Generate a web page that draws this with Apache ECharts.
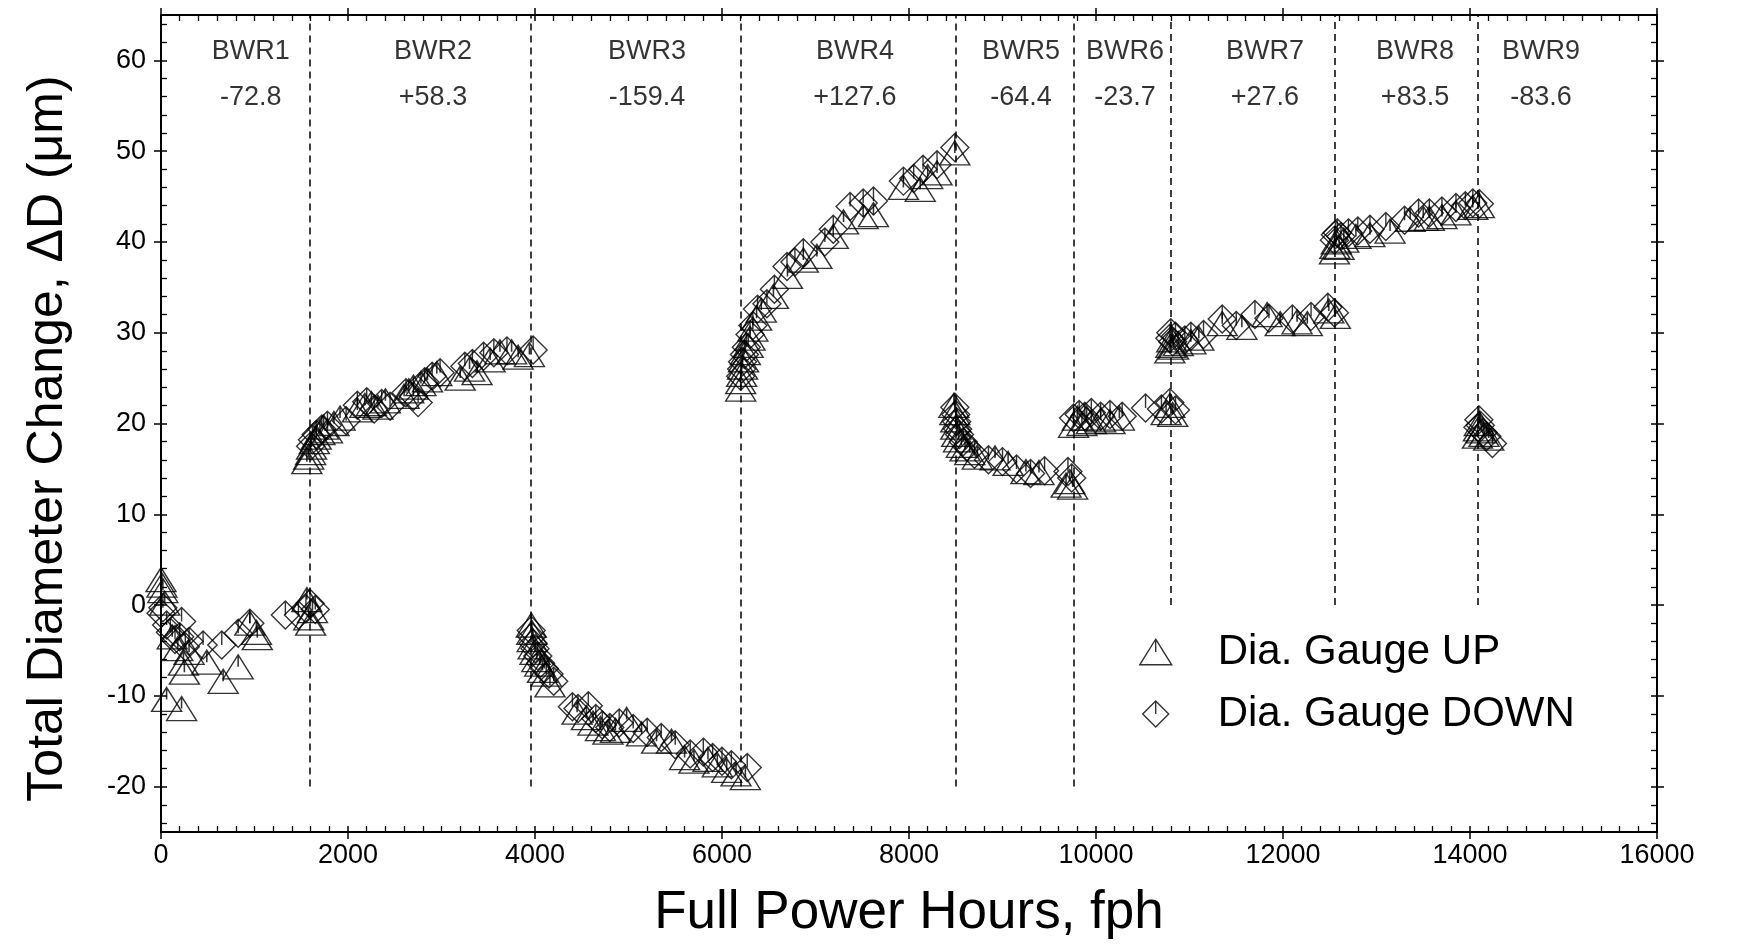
<!DOCTYPE html>
<html><head><meta charset="utf-8">
<script src="https://cdn.jsdelivr.net/npm/echarts@6/dist/echarts.min.js"></script>
<style>html,body{margin:0;padding:0;background:#fff}#c{width:1740px;height:946px}</style>
</head><body><div id="c"></div>
<script>
// ---- annotations ----
const cycleNames = ['BWR1','BWR2','BWR3','BWR4','BWR5','BWR6','BWR7','BWR8','BWR9'];
const cycleChanges = ['-72.8','+58.3','-159.4','+127.6','-64.4','-23.7','+27.6','+83.5','-83.6'];
const cycleLabelX = [960, 2909, 5198, 7422, 9198, 10310, 11807, 13412, 14760];
const cycleEnds = [1594, 3958, 6204, 8495, 9757, 10795, 12552, 14085];
const cycleEndBottoms = [-20, -20, -20, -20, -20, 0, 0, 0];
const yTicks = [-20, -10, 0, 10, 20, 30, 40, 50, 60];
const xTicks = [0, 2000, 4000, 6000, 8000, 10000, 12000, 14000, 16000];

// ---- Dia. Gauge UP  [fph, dD um] ----
const upBWR1 = [[0,2.8],[10,2.2],[20,1.6],[40,0.2],[60,-10.4],[120,-3.5],[180,-4.8],[220,-11.4],[240,-6.4],[250,-7.4],[300,-5.2],[490,-6.3],[665,-8.4],[825,-6.8],[950,-2.0],[1020,-3.0],[1030,-3.6],[1560,0.6],[1580,-1.4],[1600,-2.0],[1620,-0.6]];
const upBWR2 = [[1560,15.8],[1580,16.3],[1600,16.8],[1610,17.4],[1640,18.0],[1660,18.5],[1700,19.0],[1740,19.6],[1780,19.2],[1850,20.0],[1915,20.6],[2100,21.5],[2180,22.0],[2250,22.2],[2320,21.8],[2400,22.5],[2600,23.0],[2650,23.6],[2700,24.0],[2780,24.4],[2850,24.8],[2950,25.5],[3200,25.0],[3300,26.0],[3380,25.6],[3520,27.0],[3625,27.9],[3750,27.9],[3820,27.3],[3940,27.6]];
const upBWR3 = [[3960,-2.2],[3965,-3.0],[3970,-3.8],[3980,-4.6],[4000,-5.2],[4020,-6.0],[4050,-6.5],[4080,-7.2],[4120,-7.6],[4160,-8.8],[4450,-11.8],[4550,-12.4],[4620,-13.0],[4700,-13.6],[4780,-14.0],[4860,-13.8],[4980,-12.6],[5140,-14.2],[5300,-15.0],[5460,-15.0],[5600,-16.8],[5700,-17.2],[5850,-17.0],[5950,-17.6],[6050,-18.2],[6150,-18.6],[6250,-19.0]];
const upBWR4 = [[6200,23.8],[6200,24.6],[6210,25.4],[6220,26.2],[6230,27.0],[6250,27.8],[6280,28.6],[6300,29.4],[6330,30.4],[6370,31.6],[6420,32.5],[6550,34.0],[6700,36.2],[6870,38.0],[7015,38.4],[7190,40.6],[7300,42.2],[7510,42.8],[7620,43.0],[7940,46.0],[8120,45.8],[8200,47.2],[8300,47.6],[8490,49.8]];
const upBWR5 = [[8480,22.0],[8490,21.2],[8500,20.4],[8500,19.6],[8510,18.8],[8530,18.2],[8560,17.6],[8600,17.2],[8650,16.8],[8730,16.3],[8920,16.2],[9060,15.6],[9250,14.7],[9390,14.6],[9680,13.2],[9720,13.6],[9750,13.0]];
const upBWR6 = [[9760,19.8],[9800,20.6],[9850,20.0],[9900,20.6],[9950,20.2],[10050,20.4],[10150,20.2],[10250,20.6],[10750,21.2],[10790,22.0],[10820,21.0]];
const upBWR7 = [[10790,28.0],[10800,28.6],[10810,29.2],[10830,28.4],[10880,28.8],[11015,29.0],[11100,29.4],[11350,31.0],[11560,30.6],[11830,32.0],[11970,31.0],[12150,31.2],[12260,31.0],[12490,32.4],[12560,31.8]];
const upBWR8 = [[12550,38.9],[12555,39.5],[12570,40.0],[12600,39.4],[12650,40.2],[12780,40.6],[12930,40.8],[13145,41.2],[13360,42.5],[13500,42.6],[13565,42.6],[13700,42.8],[13850,43.2],[14030,43.8],[14100,44.0]];
const upBWR9 = [[14080,18.6],[14090,19.4],[14100,20.0],[14120,19.2],[14150,18.8],[14200,18.4]];

// ---- Dia. Gauge DOWN [fph, dD um] ----
const downBWR1 = [[0,-0.9],[20,-0.3],[60,-2.2],[100,-3.0],[150,-3.8],[200,-3.5],[220,-1.8],[260,-4.6],[300,-4.0],[450,-4.4],[650,-4.4],[825,-3.1],[950,-2.0],[1330,-1.1],[1470,-1.1],[1550,-0.4],[1594,0.2],[1650,-0.5]];
const downBWR2 = [[1600,17.5],[1620,18.2],[1660,18.8],[1720,19.4],[1780,19.8],[1980,20.3],[2100,22.0],[2200,22.4],[2280,21.6],[2360,22.2],[2450,21.9],[2620,23.4],[2700,23.0],[2750,22.3],[2820,24.6],[2900,25.2],[2985,25.6],[3250,26.3],[3330,26.6],[3450,27.4],[3560,27.8],[3700,28.0],[3980,28.1]];
const downBWR3 = [[3960,-2.8],[3965,-3.5],[3980,-4.2],[4000,-4.8],[4030,-5.6],[4060,-6.4],[4100,-7.0],[4150,-7.6],[4200,-8.4],[4400,-11.2],[4460,-11.4],[4570,-11.1],[4650,-12.5],[4720,-13.2],[4800,-13.5],[4900,-13.0],[5050,-13.6],[5200,-14.0],[5350,-14.6],[5500,-15.4],[5660,-16.4],[5800,-16.2],[5900,-16.8],[6000,-17.2],[6100,-17.6],[6270,-17.9]];
const downBWR4 = [[6200,25.2],[6210,26.0],[6220,26.8],[6240,27.6],[6260,28.4],[6300,29.8],[6330,30.8],[6380,32.6],[6480,33.2],[6560,34.8],[6695,37.3],[6780,37.8],[6870,38.8],[7100,40.0],[7190,41.4],[7370,43.9],[7510,44.3],[7620,44.5],[7940,46.7],[8050,47.0],[8150,48.0],[8300,48.5],[8490,50.4]];
const downBWR5 = [[8490,21.8],[8500,21.0],[8510,20.2],[8520,19.4],[8540,18.8],[8580,18.0],[8620,17.4],[8700,16.6],[8850,16.0],[9000,15.8],[9150,15.0],[9300,14.5],[9450,14.8],[9700,14.7],[9740,14.0]];
const downBWR6 = [[9760,20.6],[9820,21.0],[9880,20.8],[9950,21.2],[10050,20.8],[10150,21.0],[10280,20.8],[10530,21.7],[10700,21.6],[10790,22.3],[10850,21.5]];
const downBWR7 = [[10790,29.4],[10800,30.0],[10820,29.0],[10850,29.6],[10950,29.2],[11015,29.6],[11150,29.8],[11350,31.5],[11500,30.8],[11700,32.0],[11850,31.6],[12100,31.5],[12300,31.8],[12480,32.8],[12550,32.2]];
const downBWR8 = [[12550,40.2],[12560,40.8],[12580,41.0],[12620,40.6],[12700,41.0],[12800,41.2],[12930,41.4],[13100,41.7],[13300,42.4],[13450,43.2],[13565,43.2],[13700,43.4],[13850,43.8],[13950,44.0],[14030,44.3],[14100,44.2]];
const downBWR9 = [[14085,19.6],[14095,20.4],[14110,19.8],[14140,19.0],[14180,18.6],[14240,17.8]];

const upData = [].concat(upBWR1, upBWR2, upBWR3, upBWR4, upBWR5, upBWR6, upBWR7, upBWR8, upBWR9);
const downData = [].concat(downBWR1, downBWR2, downBWR3, downBWR4, downBWR5, downBWR6, downBWR7, downBWR8, downBWR9);

const FONT = "'Liberation Sans', Arial, Helvetica, sans-serif";
const TRI = 'path://M15,0L30,24L0,24Z M15,0L15,12';
const DIA = 'path://M14,0L28,14L14,28L0,14Z M14,0L14,14';
const Y_MIN = -25, Y_MAX = 65;

const markerStyle = {color: 'rgba(0,0,0,0)', borderColor: '#000', borderWidth: 1.4};

function mainX(pos, withLabel) {
  return {
    type: 'value', gridIndex: 0, position: pos, min: 0, max: 16000, interval: 2000,
    axisLine: {show: true, onZero: false, lineStyle: {color: '#000', width: 2}},
    axisTick: {show: true, inside: true, length: 6, customValues: xTicks, lineStyle: {color: '#000', width: 1.5}},
    minorTick: {show: true, splitNumber: 10, length: 6, lineStyle: {color: '#000', width: 1.3}},
    splitLine: {show: false}, minorSplitLine: {show: false},
    axisLabel: {show: withLabel, customValues: xTicks, formatter: v => String(v),
      color: '#000', fontSize: 27, fontFamily: FONT, margin: 10},
    name: withLabel ? 'Full Power Hours, fph' : '',
    nameLocation: 'middle', nameGap: 55,
    nameTextStyle: {color: '#000', fontSize: 53, fontFamily: FONT}
  };
}
function outX(pos) {
  return {
    type: 'value', gridIndex: 1, position: pos, min: 0, max: 16000, interval: 2000,
    axisLine: {show: false, onZero: false},
    axisTick: {show: true, inside: false, length: 7, customValues: xTicks, lineStyle: {color: '#000', width: 1.5}},
    axisLabel: {show: false}, splitLine: {show: false}
  };
}
function mainY(pos, withLabel) {
  return {
    type: 'value', gridIndex: 0, position: pos, min: Y_MIN, max: Y_MAX, splitNumber: 9,
    axisLine: {show: true, onZero: false, lineStyle: {color: '#000', width: 2}},
    axisTick: {show: true, inside: true, length: 6, customValues: yTicks, lineStyle: {color: '#000', width: 1.5}},
    minorTick: {show: true, splitNumber: 5, length: 6, lineStyle: {color: '#000', width: 1.3}},
    splitLine: {show: false}, minorSplitLine: {show: false},
    axisLabel: {show: withLabel, customValues: yTicks, formatter: v => String(v),
      color: '#000', fontSize: 27, fontFamily: FONT, margin: 15},
    name: withLabel ? 'Total Diameter Change, \u0394D (\u03bcm)' : '',
    nameLocation: 'middle', nameGap: 88, nameRotate: 90,
    nameTextStyle: {color: '#000', fontSize: 50, fontFamily: FONT, padding: [0, 30, 0, 0]}
  };
}
function outY(pos) {
  return {
    type: 'value', gridIndex: 1, position: pos, min: Y_MIN, max: Y_MAX, splitNumber: 9,
    axisLine: {show: false, onZero: false},
    axisTick: {show: true, inside: false, length: 7, customValues: yTicks, lineStyle: {color: '#000', width: 1.5}},
    axisLabel: {show: false}, splitLine: {show: false}
  };
}

const nameData = cycleNames.map((n, i) => [cycleLabelX[i], 61.0, n]);
const changeData = cycleChanges.map((n, i) => [cycleLabelX[i], 55.9, n]);
const dashData = cycleEnds.map((x, i) => [{coord: [x, cycleEndBottoms[i]]}, {coord: [x, Y_MAX]}]);

const labelSeries = (name, data) => ({
  name: name, type: 'scatter', xAxisIndex: 0, yAxisIndex: 0, data: data,
  symbolSize: 1, itemStyle: {color: 'rgba(0,0,0,0)'}, silent: true, z: 1,
  label: {show: true, position: 'inside', formatter: p => p.value[2], color: '#000', fontSize: 27, fontFamily: FONT}
});

const chart = echarts.init(document.getElementById('c'), null, {renderer: 'canvas'});
chart.setOption({
  animation: false,
  backgroundColor: '#fff',
  grid: [
    {left: 161, right: 83, top: 15, bottom: 114, containLabel: false},
    {left: 161, right: 83, top: 15, bottom: 114, containLabel: false}
  ],
  xAxis: [mainX('bottom', true), mainX('top', false), outX('bottom'), outX('top')],
  yAxis: [mainY('left', true), mainY('right', false), outY('left'), outY('right')],
  legend: {
    orient: 'vertical', left: 1134, top: 625, itemWidth: 32, itemHeight: 26, itemGap: 18,
    selectedMode: false,
    textStyle: {color: '#000', fontSize: 42, fontFamily: FONT, lineHeight: 44, padding: [0, 0, 0, 41]},
    data: [
      {name: 'Dia. Gauge UP', icon: TRI, itemStyle: markerStyle},
      {name: 'Dia. Gauge DOWN', icon: DIA, itemStyle: markerStyle}
    ]
  },
  series: [
    Object.assign(labelSeries('names', nameData), {
      markLine: {
        silent: true, symbol: ['none', 'none'], label: {show: false},
        lineStyle: {color: '#000', width: 1.5, type: [7, 5]},
        data: dashData
      }
    }),
    labelSeries('changes', changeData),
    {
      name: 'Dia. Gauge UP', type: 'scatter', xAxisIndex: 0, yAxisIndex: 0, data: upData,
      symbol: TRI, symbolSize: [30, 24], itemStyle: markerStyle, z: 3
    },
    {
      name: 'Dia. Gauge DOWN', type: 'scatter', xAxisIndex: 0, yAxisIndex: 0, data: downData,
      symbol: DIA, symbolSize: [28, 28], itemStyle: markerStyle, z: 3
    }
  ]
});
</script></body></html>
